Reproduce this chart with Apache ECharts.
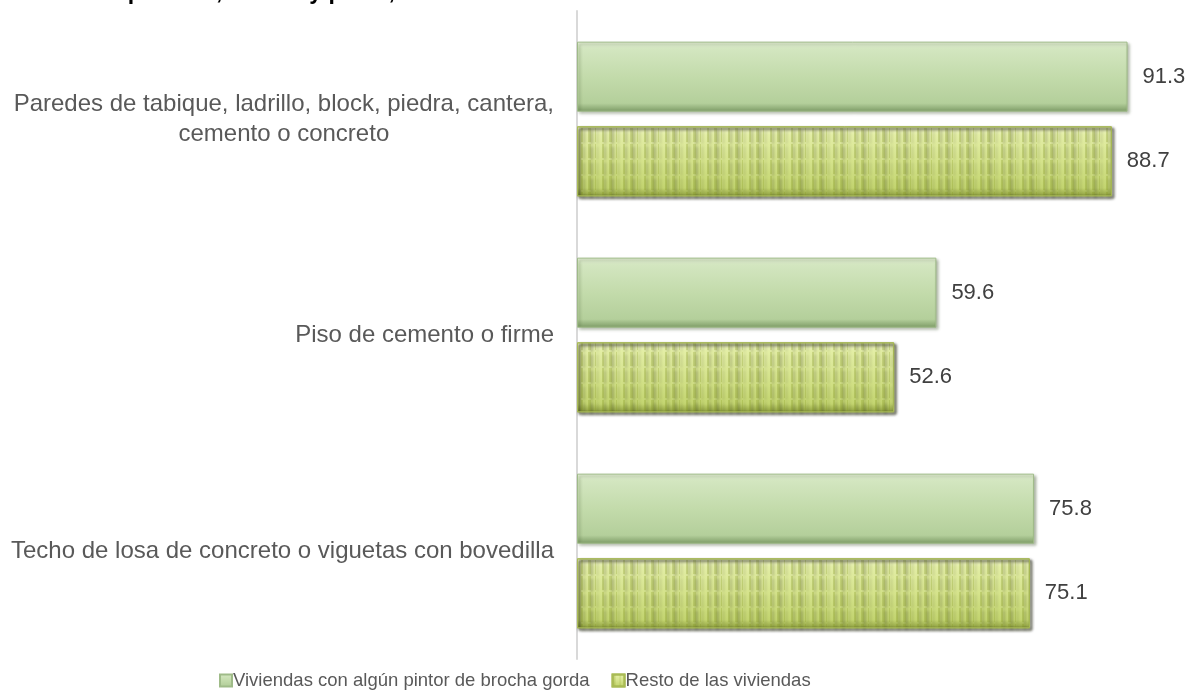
<!DOCTYPE html>
<html>
<head>
<meta charset="utf-8">
<script src="https://cdn.jsdelivr.net/npm/echarts@6/dist/echarts.min.js"></script>
<style>
html, body { margin: 0; padding: 0; background: #fff; }
#main { width: 1191px; height: 697px; }
</style>
</head>
<body>
<div id="main"></div>
<script>
var categories = [
    'Paredes de tabique, ladrillo, block, piedra, cantera,\ncemento o concreto',
    'Piso de cemento o firme',
    'Techo de losa de concreto o viguetas con bovedilla'
];
var seriesNames = ['Viviendas con algún pintor de brocha gorda', 'Resto de las viviendas'];
var pintorData = [91.3, 59.6, 75.8];
var restoData = [88.7, 52.6, 75.1];

var myChart = echarts.init(document.getElementById('main'));

// verde claro con bisel
var verde = new echarts.graphic.LinearGradient(0, 0, 0, 1, [
    { offset: 0, color: '#e6f1d8' },
    { offset: 0.1, color: '#d3e6c0' },
    { offset: 0.5, color: '#c3dbab' },
    { offset: 0.88, color: '#b4cf9b' },
    { offset: 1, color: '#7d9b66' }
]);
// amarillo verdoso
var amarillo = new echarts.graphic.LinearGradient(0, 0, 0, 1, [
    { offset: 0, color: '#f3f7cf' },
    { offset: 0.12, color: '#e4efa6' },
    { offset: 0.5, color: '#d6e48c' },
    { offset: 0.88, color: '#c4d670' },
    { offset: 1, color: '#8b9c3c' }
]);

var labelCfg = {
    show: true,
    position: 'right',
    distance: 15,
    color: '#404040',
    fontSize: 22,
    fontFamily: 'Liberation Sans, Arial, sans-serif'
};

option = {
    animation: false,
    title: {
        text: 'material en paredes, techos y pisos, 2015',
        left: 0,
        top: -19,
        padding: 0,
        textStyle: {
            fontSize: 23,
            lineHeight: 23,
            fontWeight: 'bold',
            color: '#000',
            fontFamily: 'Liberation Sans, Arial, sans-serif'
        }
    },
    legend: {
        data: seriesNames,
        left: 214,
        bottom: 2,
        icon: 'rect',
        itemWidth: 12,
        itemHeight: 12,
        itemGap: 22,
        textStyle: {
            fontSize: 18.5,
            color: '#595959',
            padding: [0, 0, 0, -4],
            fontFamily: 'Liberation Sans, Arial, sans-serif'
        }
    },
    grid: {
        left: 577,
        width: 603,
        top: 11,
        bottom: 38
    },
    xAxis: {
        type: 'value',
        min: 0,
        max: 100,
        show: false
    },
    yAxis: {
        type: 'category',
        inverse: true,
        data: categories,
        axisLine: { lineStyle: { color: '#d9d9d9', width: 2 } },
        axisTick: { show: false },
        axisLabel: {
            margin: 23,
            fontSize: 24,
            color: '#595959',
            lineHeight: 30,
            fontFamily: 'Liberation Sans, Arial, sans-serif',
            formatter: function(v) {
                return v.split('\n').map(function(s) { return '{c|' + s + '}'; }).join('\n');
            },
            rich: {
                c: { align: 'center', fontSize: 24, color: '#595959', lineHeight: 30 }
            }
        }
    },
    series: [{
        name: seriesNames[0],
        type: 'bar',
        data: pintorData,
        barWidth: 70,
        barGap: '21%',
        itemStyle: {
            color: verde,
            borderColor: '#9fbb88',
            borderWidth: 1,
            shadowColor: 'rgba(60,80,40,0.45)',
            shadowBlur: 3,
            shadowOffsetX: 2,
            shadowOffsetY: 2
        },
        label: labelCfg
    }, {
        name: seriesNames[1],
        type: 'bar',
        data: restoData,
        barWidth: 70,
        itemStyle: {
            color: amarillo,
            borderColor: '#a9bb55',
            borderWidth: 1,
            shadowColor: 'rgba(70,80,20,0.45)',
            shadowBlur: 3,
            shadowOffsetX: 2,
            shadowOffsetY: 2,
            decal: {
                symbol: 'rect',
                symbolSize: 1,
                color: 'rgba(130,150,30,0.25)',
                dashArrayX: [[3, 4, 1, 6, 2, 5]],
                dashArrayY: [14, 2],
                rotation: 0
            }
        },
        label: labelCfg
    }]
};

myChart.setOption(option);
</script>
</body>
</html>
